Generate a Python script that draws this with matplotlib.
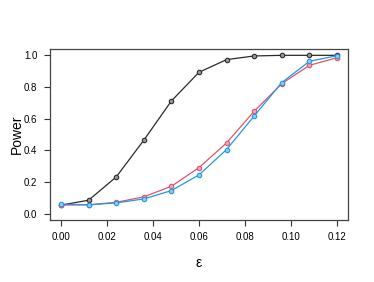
import matplotlib
matplotlib.use("Agg")
import matplotlib.pyplot as plt

plt.rcParams['font.family'] = ['Liberation Sans', 'DejaVu Sans']

eps = [0.0, 0.012, 0.024, 0.036, 0.048, 0.06, 0.072, 0.084, 0.096, 0.108, 0.12]
power_black = [0.054, 0.085, 0.232, 0.464, 0.712, 0.893, 0.973, 0.996, 1.0, 1.0, 1.0]
power_red = [0.054, 0.056, 0.072, 0.106, 0.173, 0.291, 0.447, 0.647, 0.821, 0.937, 0.985]
power_blue = [0.060, 0.056, 0.068, 0.093, 0.146, 0.245, 0.405, 0.617, 0.828, 0.962, 0.998]

xticks = [0.0, 0.02, 0.04, 0.06, 0.08, 0.10, 0.12]
yticks = [0.0, 0.2, 0.4, 0.6, 0.8, 1.0]

fig = plt.figure(figsize=(3.74, 2.82), dpi=100)
ax = fig.add_axes([50 / 374, 62 / 282, 298 / 374, 171 / 282])

series = [(power_black, "#2b2b2b", "#9a9a9a"),
          (power_red, "#DF536B", "#f0a9b5"),
          (power_blue, "#2297E6", "#90cbf2")]
for vals, col, fill in series:
    ax.plot(eps, vals, color=col, lw=0.9, marker="o", ms=3.2,
            mfc=fill, mec=col, mew=0.8)

ax.set_xlim(-0.0048, 0.1248)
ax.set_ylim(-0.04, 1.04)
ax.set_xticks(xticks)
ax.set_xticklabels(["%.2f" % v for v in xticks])
ax.set_yticks(yticks)
ax.set_yticklabels(["%.1f" % v for v in yticks])
ax.tick_params(direction="out", length=4, width=0.8, labelsize=7, pad=5,
               color="#333333")
for s in ax.spines.values():
    s.set_color("#444444")
    s.set_linewidth(0.9)

ax.set_xlabel("ε", fontsize=10, labelpad=10)
ax.set_ylabel("Power", fontsize=10, labelpad=0)

fig.savefig("out.png", dpi=100)
